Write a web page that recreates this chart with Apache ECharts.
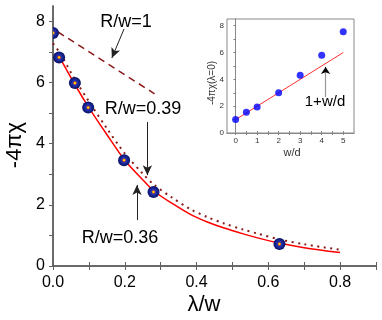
<!DOCTYPE html>
<html><head><meta charset="utf-8">
<script src="https://cdn.jsdelivr.net/npm/echarts@6/dist/echarts.min.js"></script>
<style>html,body{margin:0;padding:0;background:#fff}#c{width:382px;height:320px}</style>
</head><body><div id="c"></div>
<script>
// ---- main panel data ----
const measuredX = [0, 0.017, 0.061, 0.098, 0.198, 0.28, 0.631];
const measuredY = [7.62, 6.82, 5.98, 5.18, 3.46, 2.42, 0.72];

const fitX = [0.017, 0.06, 0.1, 0.15, 0.2, 0.25, 0.28, 0.33, 0.384, 0.43, 0.477, 0.53, 0.57, 0.63, 0.7, 0.8];
const fitY = [6.85, 5.95, 5.18, 4.3, 3.46, 2.82, 2.46, 2.06, 1.68, 1.44, 1.24, 1.05, 0.92, 0.75, 0.6, 0.44];

const dotX = [0.0, 0.02, 0.06, 0.1, 0.15, 0.2, 0.25, 0.28, 0.33, 0.384, 0.43, 0.477, 0.53, 0.57, 0.63, 0.7, 0.8];
const dotY = [7.28, 6.95, 6.12, 5.38, 4.5, 3.68, 3.02, 2.67, 2.25, 1.85, 1.6, 1.39, 1.19, 1.06, 0.87, 0.71, 0.53];

const dashX = [0.014, 0.283];
const dashY = [7.65, 5.63];

const mainXLabels = [0, 0.2, 0.4, 0.6, 0.8];
const mainXTicks = [0, 0.1, 0.2, 0.3, 0.4, 0.5, 0.6, 0.7, 0.8, 0.9];
const mainYLabels = [0, 2, 4, 6, 8];
const mainYTicks = [0, 1, 2, 3, 4, 5, 6, 7, 8];

// ---- inset data ----
const insetX = [0, 0.5, 1, 2, 3, 4, 5];
const insetY = [1.0, 1.55, 1.93, 3.0, 4.3, 5.8, 7.55];
const insetLineX = [0, 5];
const insetLineY = [1, 6];
const insetXLabels = [0, 1, 2, 3, 4, 5];
const insetXTicks = [0, 0.5, 1, 1.5, 2, 2.5, 3, 3.5, 4, 4.5, 5];
const insetYLabels = [0, 2, 4, 6, 8];
const insetYTicks = [0, 1, 2, 3, 4, 5, 6, 7, 8];

const zip = (a, b) => a.map((v, i) => [v, b[i]]);
const FONT = 'Liberation Sans, Arial, sans-serif';
const AX = '#606060';
const DARKRED = '#8b1a1a';

const chart = echarts.init(document.getElementById('c'), null, {renderer: 'canvas'});

function axisBase(extra) {
  return Object.assign({
    type: 'value',
    axisLine: {show: true, lineStyle: {color: AX, width: 1.5}},
    splitLine: {show: false},
  }, extra);
}

const option = {
  animation: false,
  backgroundColor: '#fff',
  grid: [
    {left: 53, top: 6, right: 6, bottom: 54, show: false},
    {left: 227, top: 19, width: 127, height: 114, show: true, backgroundColor: '#fff', borderColor: '#888', borderWidth: 1, z: 5}
  ],
  xAxis: [
    axisBase({gridIndex: 0, position: 'bottom', min: 0, max: 0.9,
      axisTick: {show: true, inside: true, length: 4, customValues: mainXTicks, lineStyle: {color: AX}},
      axisLabel: {show: true, customValues: mainXLabels, formatter: v => Number(v).toFixed(1), fontSize: 16, color: '#000', fontFamily: FONT, margin: 9}}),
    axisBase({gridIndex: 0, position: 'top', min: 0, max: 0.9,
      axisTick: {show: true, inside: true, length: 4, customValues: mainXTicks, lineStyle: {color: AX}},
      axisLabel: {show: false}}),
    axisBase({gridIndex: 1, position: 'bottom', min: -0.4, max: 5.5, z: 6,
      axisLine: {show: true, lineStyle: {color: '#888', width: 1}},
      axisTick: {show: true, inside: true, length: 2, customValues: insetXTicks, lineStyle: {color: '#888'}},
      axisLabel: {show: true, customValues: insetXLabels, fontSize: 8, color: '#333', fontFamily: FONT, margin: 4}}),
    axisBase({gridIndex: 1, position: 'top', min: -0.4, max: 5.5, z: 6,
      axisLine: {show: true, lineStyle: {color: '#888', width: 1}},
      axisTick: {show: true, inside: true, length: 2, customValues: insetXTicks, lineStyle: {color: '#888'}},
      axisLabel: {show: false}})
  ],
  yAxis: [
    axisBase({gridIndex: 0, position: 'left', min: 0, max: 8.5,
      axisTick: {show: true, inside: false, length: 4, customValues: mainYTicks, lineStyle: {color: AX}},
      axisLabel: {show: true, customValues: mainYLabels, fontSize: 16, color: '#000', fontFamily: FONT, margin: 8}}),
    axisBase({gridIndex: 0, position: 'right', min: 0, max: 8.5,
      axisTick: {show: true, inside: true, length: 4, customValues: mainYTicks, lineStyle: {color: AX}},
      axisLabel: {show: false}}),
    axisBase({gridIndex: 1, position: 'left', min: 0, max: 8.5, z: 6,
      axisLine: {show: true, lineStyle: {color: '#888', width: 1}},
      axisTick: {show: true, inside: false, length: 2, customValues: insetYTicks, lineStyle: {color: '#888'}},
      axisLabel: {show: true, customValues: insetYLabels, fontSize: 8, color: '#333', fontFamily: FONT, margin: 3}}),
    axisBase({gridIndex: 1, position: 'right', min: 0, max: 8.5, z: 6,
      axisLine: {show: true, lineStyle: {color: '#888', width: 1}},
      axisTick: {show: true, inside: true, length: 2, customValues: insetYTicks, lineStyle: {color: '#888'}},
      axisLabel: {show: false}})
  ],
  series: [
    {type: 'line', xAxisIndex: 0, yAxisIndex: 0, data: zip(dashX, dashY), symbol: 'none',
      lineStyle: {color: DARKRED, width: 1.5, type: [7, 5]}, silent: true},
    {type: 'line', xAxisIndex: 0, yAxisIndex: 0, data: zip(dotX, dotY), symbol: 'none', smooth: 0.3,
      lineStyle: {color: DARKRED, width: 2, type: [2, 4.5]}, silent: true},
    {type: 'line', xAxisIndex: 0, yAxisIndex: 0, data: zip(fitX, fitY), symbol: 'none', smooth: 0.3,
      lineStyle: {color: '#ff0000', width: 1.5}, silent: true,
      markLine: {silent: true, symbol: ['none', 'arrow'], symbolSize: [7, 10], label: {show: false},
        lineStyle: {color: '#222', width: 1, type: 'solid'},
        emphasis: {disabled: true},
        data: [
          [{coord: [0.198, 7.75]}, {coord: [0.164, 6.8]}],
          [{coord: [0.263, 4.71]}, {coord: [0.263, 2.97]}],
          [{coord: [0.234, 1.5]}, {coord: [0.234, 2.65]}]
        ]}},
    {type: 'custom', xAxisIndex: 0, yAxisIndex: 0, clip: true, silent: true, z: 4,
      data: zip(measuredX, measuredY),
      renderItem: function (params, api) {
        const p = api.coord([api.value(0), api.value(1)]);
        return {type: 'circle', shape: {cx: p[0], cy: p[1], r: 6},
          style: {fill: {type: 'radial', x: 0.5, y: 0.5, r: 0.5, colorStops: [
            {offset: 0, color: '#ffff60'}, {offset: 0.12, color: '#ffd000'}, {offset: 0.22, color: '#e05010'},
            {offset: 0.34, color: '#2838b0'}, {offset: 0.7, color: '#14208c'}, {offset: 1, color: '#0a1060'}]}}};
      }},
    // inset
    {type: 'line', xAxisIndex: 2, yAxisIndex: 2, data: zip(insetLineX, insetLineY), symbol: 'none', z: 7,
      lineStyle: {color: '#ff3030', width: 1}, silent: true,
      markLine: {silent: true, symbol: ['none', 'none'], label: {show: false},
        lineStyle: {color: '#999', width: 1.2, type: 'solid'}, emphasis: {disabled: true},
        data: [[{coord: [4.18, 2.68]}, {coord: [4.18, 4.7]}]]}},
    {type: 'line', xAxisIndex: 2, yAxisIndex: 2, data: [], symbol: 'none', z: 8, silent: true,
      markLine: {silent: true, symbol: ['none', 'arrow'], symbolSize: [7, 7], label: {show: false},
        lineStyle: {color: '#000', width: 1, type: 'solid'}, emphasis: {disabled: true},
        data: [[{coord: [4.18, 4.55]}, {coord: [4.18, 4.93]}]]}},
    {type: 'scatter', xAxisIndex: 2, yAxisIndex: 2, data: zip(insetX, insetY), symbolSize: 7, z: 8,
      itemStyle: {color: '#0000ff'}, silent: true}
  ],
  graphic: [
    {type: 'text', x: 15, y: 145, rotation: Math.PI / 2, z: 10,
      style: {text: '-4πχ', font: '22px ' + FONT, fill: '#000', textAlign: 'center', textVerticalAlign: 'middle'}},
    {type: 'text', x: 204, y: 305, z: 10,
      style: {text: 'λ/w', font: '22px ' + FONT, fill: '#000', textAlign: 'center', textVerticalAlign: 'middle'}},
    {type: 'text', x: 126, y: 22, z: 10,
      style: {text: 'R/w=1', font: '18px ' + FONT, fill: '#000', textAlign: 'center', textVerticalAlign: 'middle'}},
    {type: 'text', x: 143, y: 109, z: 10,
      style: {text: 'R/w=0.39', font: '18px ' + FONT, fill: '#000', textAlign: 'center', textVerticalAlign: 'middle'}},
    {type: 'text', x: 120, y: 238, z: 10,
      style: {text: 'R/w=0.36', font: '18px ' + FONT, fill: '#000', textAlign: 'center', textVerticalAlign: 'middle'}},
    {type: 'text', x: 325, y: 102, z: 10,
      style: {text: '1+w/d', font: '15px ' + FONT, fill: '#000', textAlign: 'center', textVerticalAlign: 'middle'}},
    {type: 'text', x: 212, y: 83, rotation: Math.PI / 2, z: 10,
      style: {text: '-4πχ(λ=0)', font: '10px ' + FONT, fill: '#333', textAlign: 'center', textVerticalAlign: 'middle'}},
    {type: 'text', x: 292, y: 153, z: 10,
      style: {text: 'w/d', font: '11px ' + FONT, fill: '#333', textAlign: 'center', textVerticalAlign: 'middle'}}
  ]
};
chart.setOption(option);
</script>
</body></html>
